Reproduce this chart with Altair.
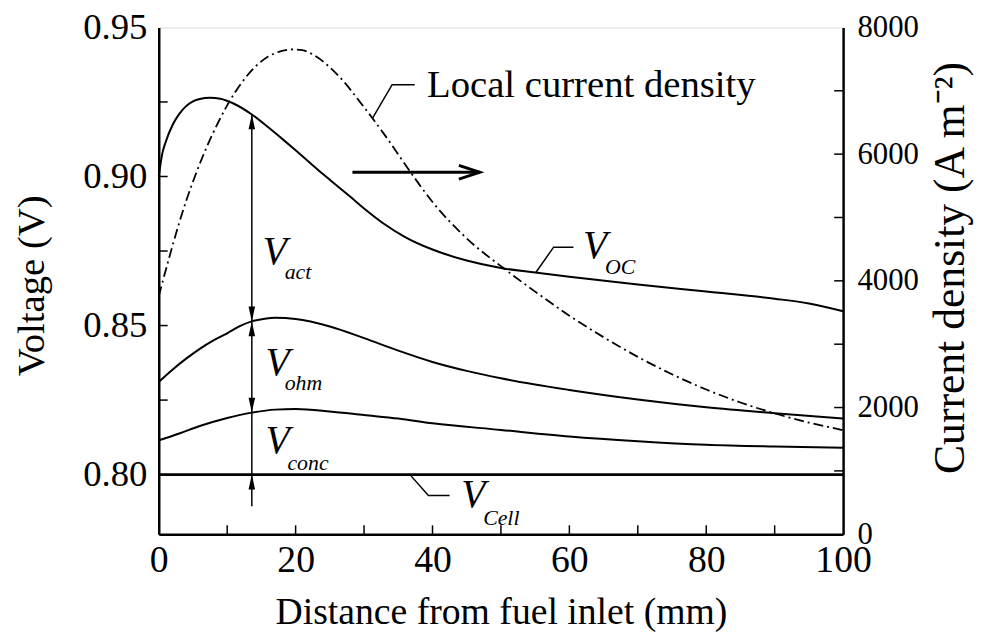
import altair as alt
import pandas as pd
import numpy as np

# ---------------- data ----------------
dist_oc = [0, 0.5, 1, 2, 3, 4, 5, 6, 7.5, 9, 11, 13.6, 16, 18, 20, 22, 24, 26, 28, 30,
           33, 36, 40, 45, 50, 55, 60, 70, 80, 90, 95, 100]
v_oc = [0.900, 0.9075, 0.9115, 0.9172, 0.9210, 0.9236, 0.9252, 0.9260, 0.9264, 0.9261,
        0.9244, 0.9208, 0.9165, 0.9127, 0.9088, 0.9048, 0.9008, 0.8970, 0.8932, 0.8893,
        0.8840, 0.8797, 0.8755, 0.8718, 0.8693, 0.8678, 0.8664, 0.8638, 0.8614, 0.8590,
        0.8574, 0.8548]

dist_ohm = [0, 2, 4, 6, 8, 10, 12, 13.6, 15.5, 17, 20, 25, 30, 35, 40, 45, 50, 60, 70, 80, 90, 100]
v_ohm = [0.8311, 0.8352, 0.8389, 0.8422, 0.8450, 0.8474, 0.8500, 0.8514, 0.8523, 0.8526,
         0.8522, 0.8497, 0.8458, 0.8416, 0.8378, 0.8348, 0.8323, 0.8284, 0.8252, 0.8226,
         0.8206, 0.8188]

dist_conc = [0, 3, 6, 10, 13.6, 17, 20, 25, 30, 35, 40, 50, 60, 70, 80, 90, 100]
v_conc = [0.8115, 0.8138, 0.8163, 0.8190, 0.8208, 0.8218, 0.8220, 0.8212, 0.8200, 0.8188,
          0.8172, 0.8150, 0.8128, 0.8112, 0.8100, 0.8094, 0.8090]

dist_cell = [0, 100]
v_cell = [0.80, 0.80]

dist_cur = [0, 1, 2, 3, 4, 5.5, 7, 8.5, 10, 12, 14, 16, 18, 19.5, 21, 23, 25, 27, 29, 31.2,
            33.5, 36.7, 40, 45, 50.5, 55, 60, 65, 70, 75, 80, 85, 90, 95, 100]
cur = [3760, 4160, 4550, 4920, 5260, 5710, 6110, 6460, 6770, 7110, 7370, 7540, 7630, 7652,
       7640, 7540, 7370, 7150, 6880, 6570, 6230, 5730, 5245, 4670, 4190, 3830, 3450, 3110,
       2800, 2525, 2285, 2080, 1908, 1763, 1643]

x_label_vals = [0, 20, 40, 60, 80, 100]
x_minor = [10, 20, 30, 40, 50, 60, 70, 80, 90]
v_label_vals = [0.80, 0.85, 0.90, 0.95]
v_minor = [0.80, 0.825, 0.85, 0.875, 0.90, 0.925]
c_label_vals = [0, 2000, 4000, 6000, 8000]
c_minor = [1000, 2000, 3000, 4000, 5000, 6000, 7000]

# annotations (data coordinates)
arrow_d = 13.6
arrow_bottom = 0.7894
harrow_d = [28.3, 46.9]
harrow_v = 0.9014

leader_id = ["lcd", "lcd", "lcd", "oc", "oc", "oc", "cell", "cell", "cell"]
leader_d = [31.2, 34.1, 37.4, 55.1, 57.7, 60.6, 36.7, 39.4, 42.5]
leader_v = [0.9194, 0.9308, 0.9308, 0.8678, 0.8763, 0.8763, 0.8000, 0.7930, 0.7930]

big_v_d = [15.2, 15.6, 15.6, 62.0, 44.2]
big_v_v = [0.8707, 0.8333, 0.8073, 0.8727, 0.7893]
sub_text = ["act", "ohm", "conc", "OC", "Cell"]
sub_d = [18.4, 18.4, 18.8, 65.2, 47.4]
sub_v = [0.8657, 0.8283, 0.8017, 0.8673, 0.7832]

lcd_text = ["Local current density"]
lcd_d = [39.2]
lcd_v = [0.9268]

# ---------------- derived tables ----------------
curves = pd.concat([
    pd.DataFrame({"d": dist_oc, "v": v_oc, "s": "oc"}),
    pd.DataFrame({"d": dist_ohm, "v": v_ohm, "s": "ohm"}),
    pd.DataFrame({"d": dist_conc, "v": v_conc, "s": "conc"}),
])
cell_df = pd.DataFrame({"d": dist_cell, "v": v_cell})
cur_df = pd.DataFrame({"d": dist_cur, "c": cur})

top_tip = float(np.interp(arrow_d, dist_oc, v_oc))
ohm_tip = float(np.interp(arrow_d, dist_ohm, v_ohm))
conc_tip = float(np.interp(arrow_d, dist_conc, v_conc))
up_tips = pd.DataFrame({"d": [arrow_d] * 3, "v": [top_tip, ohm_tip, v_cell[0]]})
down_tips = pd.DataFrame({"d": [arrow_d] * 2, "v": [ohm_tip, conc_tip]})
vline_df = pd.DataFrame({"d": [arrow_d], "v": [top_tip], "v2": [arrow_bottom]})
harrow_df = pd.DataFrame({"d": [harrow_d[0]], "d2": [harrow_d[1]], "v": [harrow_v]})
hhead_df = pd.DataFrame({"d": [harrow_d[1]], "v": [harrow_v]})
leader_df = pd.DataFrame({"id": leader_id, "d": leader_d, "v": leader_v,
                          "o": list(range(len(leader_id)))})
bigv_df = pd.DataFrame({"d": big_v_d, "v": big_v_v, "t": ["V"] * len(big_v_d)})
sub_df = pd.DataFrame({"d": sub_d, "v": sub_v, "t": sub_text})
lcd_df = pd.DataFrame({"d": lcd_d, "v": lcd_v, "t": lcd_text})

W, H = 690, 511
FONT = "Liberation Serif"
TICK = 9

xscale = alt.Scale(domain=[0, 100], nice=False, zero=False)
vscale = alt.Scale(domain=[0.78, 0.95], nice=False, zero=False)
cscale = alt.Scale(domain=[0, 8000], nice=False, zero=True)

x_axis = alt.Axis(values=x_label_vals, format="d", ticks=False, tickSize=0, grid=False,
                  labelFont=FONT, labelFontSize=38, labelColor="black", labelPadding=8,
                  labelFlush=False,
                  title="Distance from fuel inlet (mm)", titleFont=FONT, titleFontSize=38,
                  titleFontWeight="normal", titleColor="black", titlePadding=14,
                  domainColor="black", domainWidth=2.5)
v_axis = alt.Axis(values=v_label_vals, format=".2f", ticks=False, tickSize=0, grid=False,
                  labelFont=FONT, labelFontSize=37, labelColor="black", labelPadding=12,
                  title="Voltage (V)", titleFont=FONT, titleFontSize=39,
                  titleFontWeight="normal", titleColor="black",
                  titleX=-128, titleY=260, titleBaseline="middle", titleAngle=270,
                  domainColor="black", domainWidth=2.5)
c_axis = alt.Axis(orient="right", values=c_label_vals, format="d", ticks=False, tickSize=0,
                  grid=False, labelFont=FONT, labelFontSize=31, labelColor="black",
                  labelPadding=14, title="Current density (A m\u207b\u00b2)", titleFont=FONT,
                  titleFontSize=44, titleFontWeight="normal", titleColor="black",
                  titleX=108, titleY=242, titleBaseline="middle", titleAngle=270,
                  domainColor="black", domainWidth=2.5)


def X():
    return alt.X("d:Q", scale=xscale, axis=x_axis)


def Y():
    return alt.Y("v:Q", scale=vscale, axis=v_axis)


def C():
    return alt.Y("c:Q", scale=cscale, axis=c_axis)


curve_layer = alt.Chart(curves).mark_line(color="black", strokeWidth=2, interpolate="monotone").encode(
    x=X(), y=Y(), detail="s:N")
cell_layer = alt.Chart(cell_df).mark_line(color="black", strokeWidth=3).encode(x=X(), y=Y())
vline = alt.Chart(vline_df).mark_rule(color="black", strokeWidth=1.5).encode(
    x=X(), y=Y(), y2="v2:Q")
up_heads = alt.Chart(up_tips).mark_point(shape="M0,0L-0.22,1L0.22,1Z", size=900, filled=True,
                                         color="black", opacity=1, strokeWidth=0).encode(x=X(), y=Y())
down_heads = alt.Chart(down_tips).mark_point(shape="M0,0L-0.22,-1L0.22,-1Z", size=900, filled=True,
                                             color="black", opacity=1, strokeWidth=0).encode(x=X(), y=Y())
hline = alt.Chart(harrow_df).mark_rule(color="black", strokeWidth=3).encode(
    x=X(), x2="d2:Q", y=Y())
hhead = alt.Chart(hhead_df).mark_point(shape="M-1,-0.33L0,0L-1,0.33", size=1764, filled=False,
                                       color="black", opacity=1, strokeWidth=3).encode(x=X(), y=Y())
leaders = alt.Chart(leader_df).mark_line(color="black", strokeWidth=1.5).encode(
    x=X(), y=Y(), detail="id:N", order="o:Q")
bigv = alt.Chart(bigv_df).mark_text(font=FONT, fontSize=40, fontStyle="italic", align="left",
                                    baseline="alphabetic", color="black").encode(x=X(), y=Y(), text="t:N")
subs = alt.Chart(sub_df).mark_text(font=FONT, fontSize=22, fontStyle="italic", align="left",
                                   baseline="alphabetic", color="black").encode(x=X(), y=Y(), text="t:N")
lcd = alt.Chart(lcd_df).mark_text(font=FONT, fontSize=39, align="left", baseline="alphabetic",
                                  color="black").encode(x=X(), y=Y(), text="t:N")
vticks = alt.Chart(pd.DataFrame({"v": v_minor})).mark_rule(color="black", strokeWidth=1.5).encode(
    y=Y(), x=alt.value(0), x2=alt.value(TICK))
xticks = alt.Chart(pd.DataFrame({"d": x_minor})).mark_rule(color="black", strokeWidth=1.5).encode(
    x=X(), y=alt.value(H), y2=alt.value(H - TICK))

volt_group = alt.layer(curve_layer, cell_layer, vline, up_heads, down_heads, hline, hhead,
                       leaders, bigv, subs, lcd, vticks, xticks)

cur_line = alt.Chart(cur_df).mark_line(color="black", strokeWidth=1.8, strokeDash=[10, 4, 2, 4],
                                       interpolate="monotone").encode(x=X(), y=C())
cticks = alt.Chart(pd.DataFrame({"c": c_minor})).mark_rule(color="black", strokeWidth=1.5).encode(
    y=C(), x=alt.value(W - TICK), x2=alt.value(W))
cur_group = alt.layer(cur_line, cticks)

chart = alt.layer(volt_group, cur_group).resolve_scale(y="independent").properties(
    width=W, height=H,
    autosize=alt.AutoSizeParams(type="none"),
    padding={"left": 152, "top": 17, "right": 135, "bottom": 100},
).configure_view(stroke="black", strokeWidth=2.5).configure(background="white")

chart.save("out.html", embed_options={"renderer": "svg", "actions": False})
